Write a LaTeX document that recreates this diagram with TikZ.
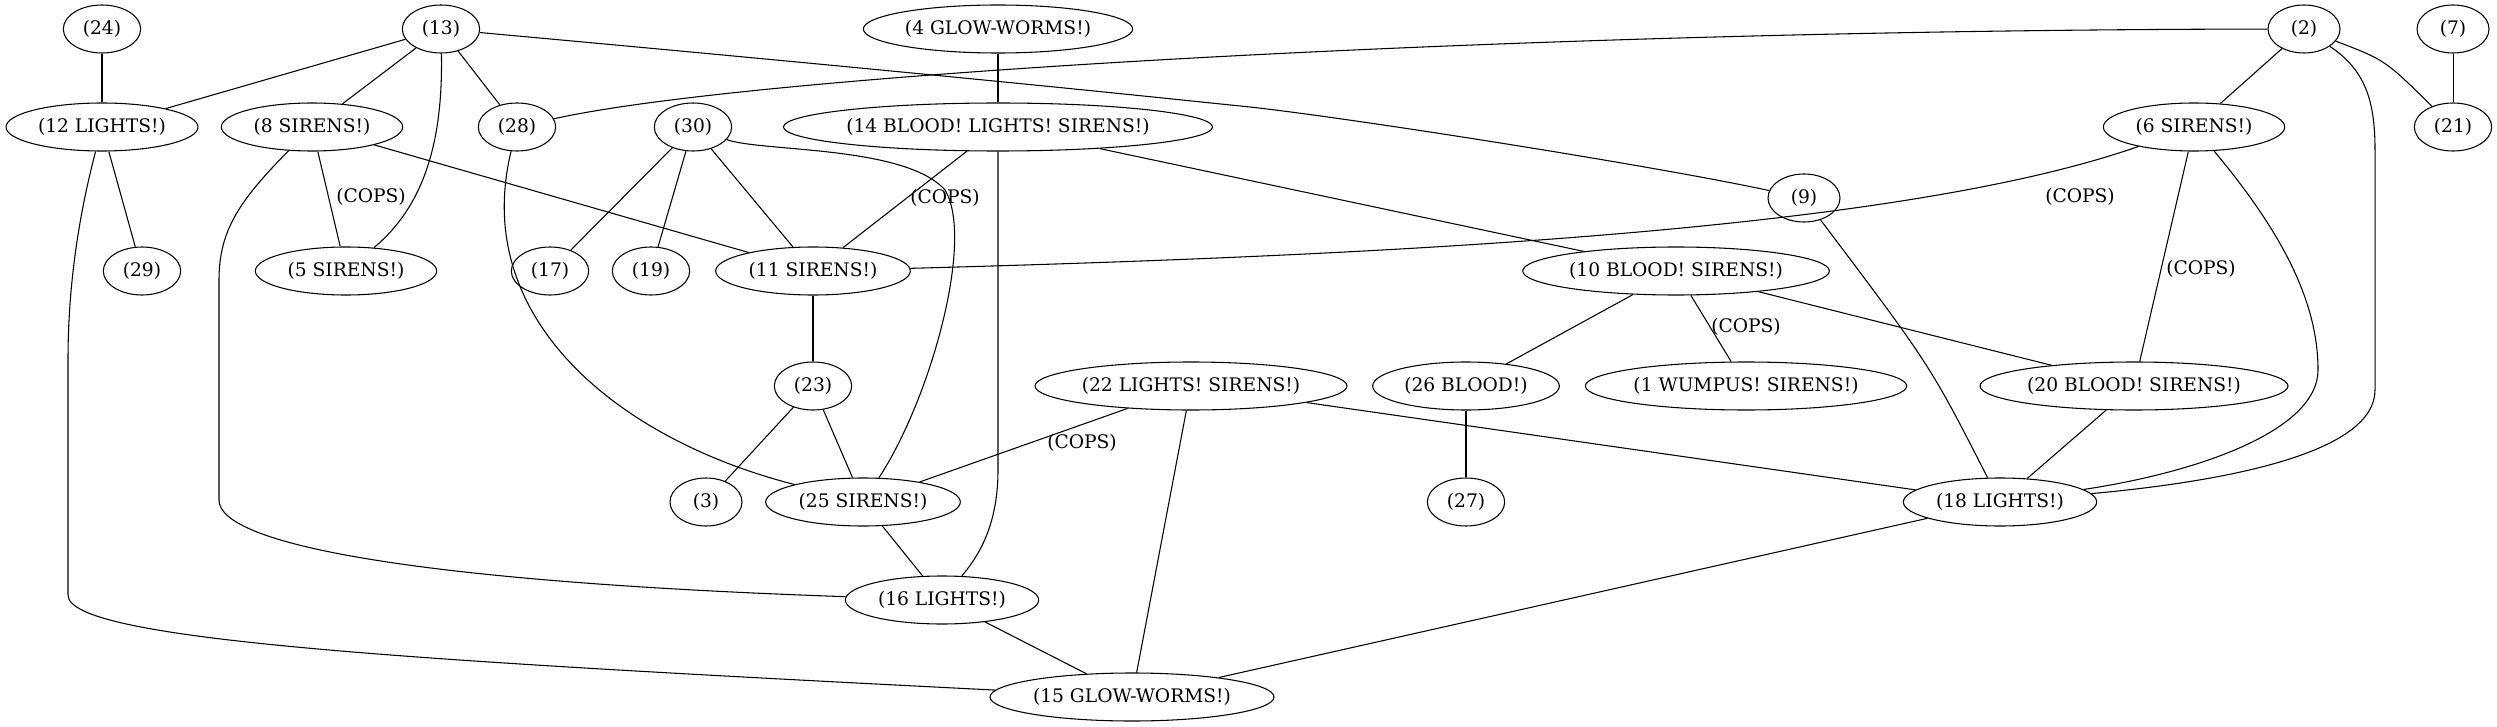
\documentclass[tikz,border=0pt]{standalone}
\usepackage{fontspec}
\setmainfont{DejaVu Serif}
\usetikzlibrary{shapes.geometric}
\begin{document}
\begin{tikzpicture}[x=0.75pt,y=-0.75pt,
  gnode/.style={draw, ellipse, line width=0.8pt, inner sep=0pt, minimum width=54pt, minimum height=36pt, font=\fontsize{14}{16}\selectfont},
  two/.style={minimum width=58pt},
  conn/.style={line width=0.8pt},
  elabel/.style={font=\fontsize{14}{16}\selectfont, inner sep=0pt}]
\useasboundingbox (0,0) rectangle (2497,727);
% nodes
\node[gnode,two] (n24) at (102,29) {(24)};
\node[gnode,two] (n13) at (441,29) {(13)};
\node[gnode,minimum width=202pt] (n4) at (998,29) {(4 GLOW-WORMS!)};
\node[gnode] (n2) at (2304,29) {(2)};
\node[gnode] (n7) at (2453,29) {(7)};
\node[gnode,minimum width=144pt] (n12) at (102,127) {(12 LIGHTS!)};
\node[gnode,minimum width=136pt] (n8) at (312,127) {(8 SIRENS!)};
\node[gnode,two] (n28) at (517,127) {(28)};
\node[gnode,two] (n30) at (693,127) {(30)};
\node[gnode,minimum width=317pt] (n14) at (998,127) {(14 BLOOD! LIGHTS! SIRENS!)};
\node[gnode,minimum width=136pt] (n6) at (2194,127) {(6 SIRENS!)};
\node[gnode,two] (n21) at (2453,127) {(21)};
\node[gnode] (n9) at (1804,198) {(9)};
\node[gnode,two] (n29) at (142,271) {(29)};
\node[gnode,minimum width=136pt] (n5) at (346,271) {(5 SIRENS!)};
\node[gnode,two] (n17) at (550,271) {(17)};
\node[gnode,two] (n19) at (651,271) {(19)};
\node[gnode,minimum width=146pt] (n11) at (813,271) {(11 SIRENS!)};
\node[gnode,minimum width=230pt] (n10) at (1676,271) {(10 BLOOD! SIRENS!)};
\node[gnode,two] (n23) at (813,386) {(23)};
\node[gnode,minimum width=234pt] (n22) at (1191,386) {(22 LIGHTS! SIRENS!)};
\node[gnode,minimum width=140pt] (n26) at (1466,386) {(26 BLOOD!)};
\node[gnode,minimum width=241pt] (n1) at (1746,386) {(1 WUMPUS! SIRENS!)};
\node[gnode,minimum width=231pt] (n20) at (2134,386) {(20 BLOOD! SIRENS!)};
\node[gnode] (n3) at (706,502) {(3)};
\node[gnode,minimum width=146pt] (n25) at (863,502) {(25 SIRENS!)};
\node[gnode,two] (n27) at (1466,502) {(27)};
\node[gnode,minimum width=145pt] (n18) at (2000,502) {(18 LIGHTS!)};
\node[gnode,minimum width=145pt] (n16) at (942,600) {(16 LIGHTS!)};
\node[gnode,minimum width=213pt] (n15) at (1132,697) {(15 GLOW-WORMS!)};
% straight edges
\draw[conn] (n24) -- (n12);
\draw[conn] (n13) -- (n12);
\draw[conn] (n13) -- (n8);
\draw[conn] (n13) -- (n28);
\draw[conn] (n4) -- (n14);
\draw[conn] (n2) -- (n6);
\draw[conn] (n7) -- (n21);
\draw[conn] (n12) -- (n29);
\draw[conn] (n8) -- (n5);
\draw[conn] (n8) -- (n11);
\draw[conn] (n30) -- (n17);
\draw[conn] (n30) -- (n19);
\draw[conn] (n30) -- (n11);
\draw[conn] (n14) -- (n11);
\draw[conn] (n14) -- (n10);
\draw[conn] (n6) -- (n20);
\draw[conn] (n11) -- (n23);
\draw[conn] (n10) -- (n26);
\draw[conn] (n10) -- (n1);
\draw[conn] (n10) -- (n20);
\draw[conn] (n23) -- (n3);
\draw[conn] (n23) -- (n25);
\draw[conn] (n22) -- (n25);
\draw[conn] (n22) -- (n15);
\draw[conn] (n22) -- (n18);
\draw[conn] (n26) -- (n27);
\draw[conn] (n20) -- (n18);
\draw[conn] (n25) -- (n16);
\draw[conn] (n16) -- (n15);
\draw[conn] (n18) -- (n15);
% curved edges
\draw[conn] (n13) .. controls (443,140) and (425,205) .. (n5);
\draw[conn] (n13) .. controls (1000,80) and (1180,100) .. (1250,107) .. controls (1350,118) and (1650,165) .. (n9);
\draw[conn] (n28) .. controls (750,75) and (1500,30) .. (n2);
\draw[conn] (n2) .. controls (2385,60) .. (n21);
\draw[conn] (n2) .. controls (2365,70) and (2375,100) .. (2375,150) -- (2375,390) .. controls (2375,450) and (2240,480) .. (n18);
\draw[conn] (n12) .. controls (75,230) and (68,300) .. (68,360) -- (68,595) .. controls (68,640) and (400,660) .. (n15);
\draw[conn] (n8) .. controls (240,200) and (219,230) .. (219,280) -- (219,500) .. controls (219,545) and (420,582) .. (n16);
\draw[conn] (n28) .. controls (470,320) and (620,440) .. (n25);
\draw[conn] (n30) .. controls (760,152) and (905,145) .. (945,190) .. controls (975,240) and (930,400) .. (n25);
\draw[conn] (n14.south) -- (998,470) .. controls (998,530) and (975,560) .. (n16);
\draw[conn] (n11) .. controls (1400,255) and (1900,230) .. (n6);
\draw[conn] (n6) .. controls (2280,230) and (2318,300) .. (2318,370) .. controls (2318,430) and (2200,472) .. (n18);
\draw[conn] (n9) .. controls (1930,365) .. (n18);
% edge labels
\node[elabel] (l1) at (371,197) {(COPS)};
\node[elabel] (l2) at (945,198) {(COPS)};
\node[elabel] (l3) at (2080,197) {(COPS)};
\node[elabel] (l4) at (2201,269) {(COPS)};
\node[elabel] (l5) at (1746,327) {(COPS)};
\node[elabel] (l6) at (1082,443) {(COPS)};
\end{tikzpicture}
\end{document}
